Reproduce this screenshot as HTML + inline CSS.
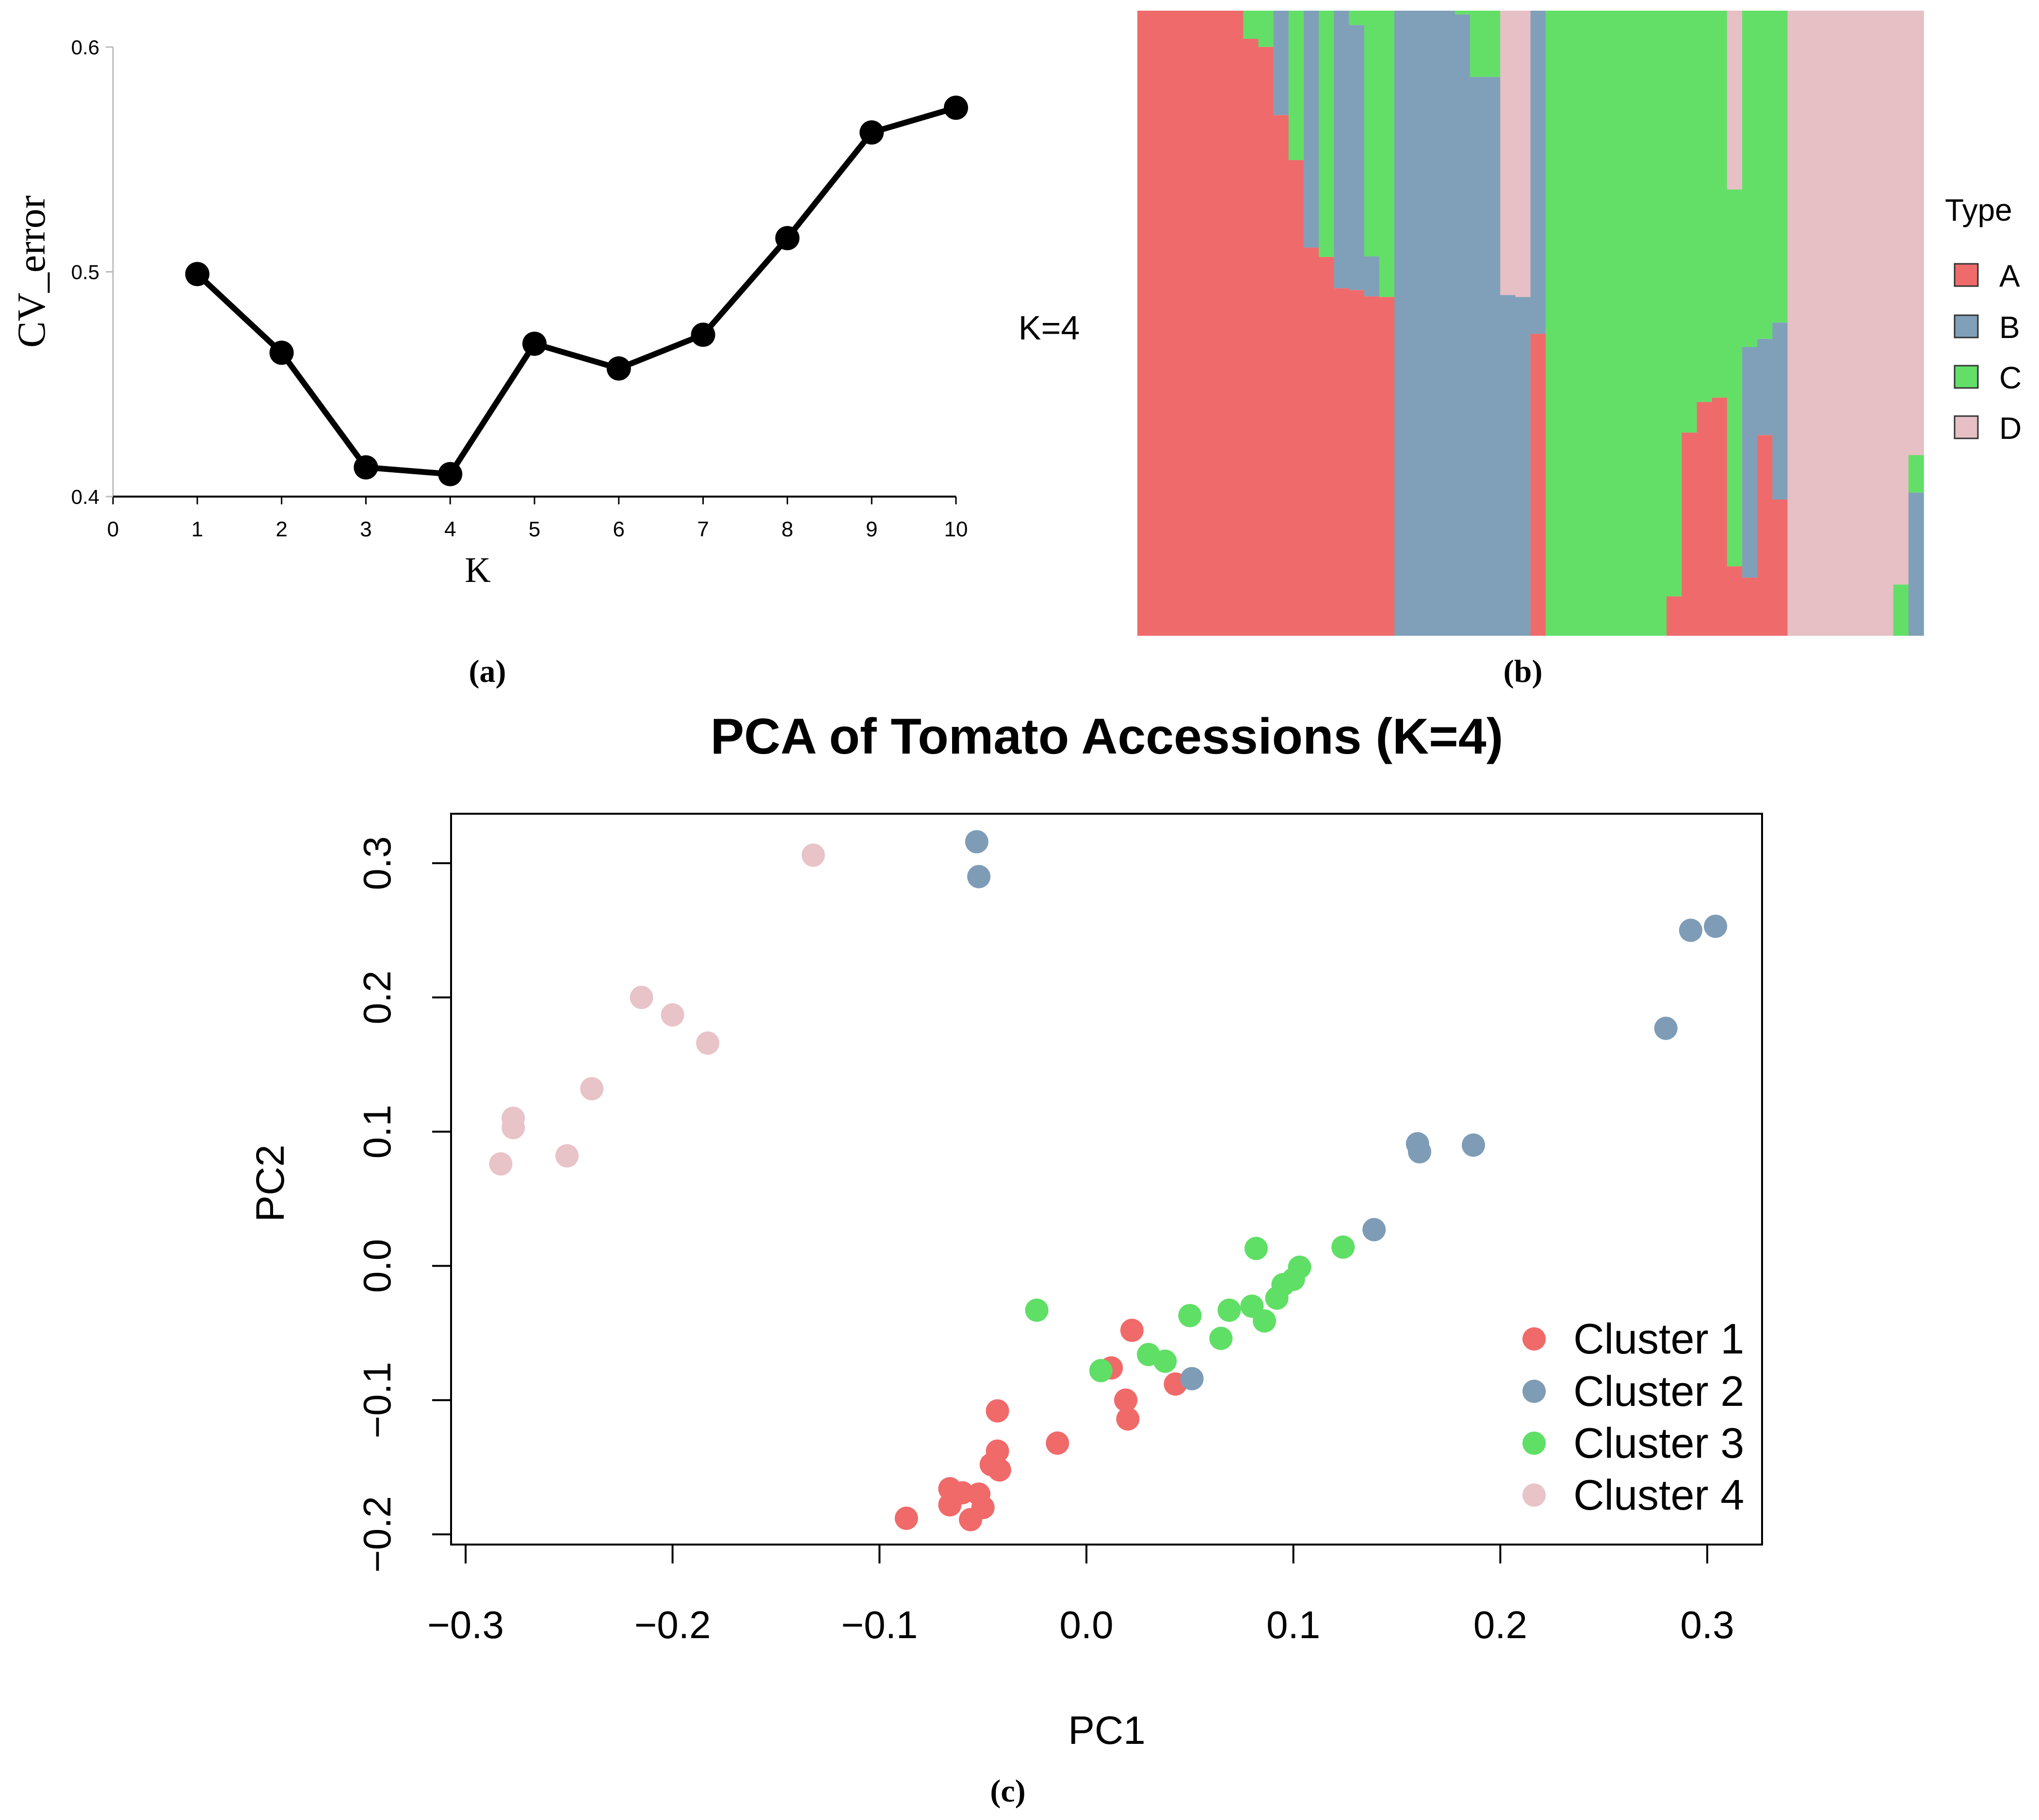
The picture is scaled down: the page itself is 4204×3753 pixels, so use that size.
<!DOCTYPE html>
<html><head><meta charset="utf-8"><style>
html,body{margin:0;padding:0;background:#fff;}
svg{display:block;}
</style></head><body>
<svg id="fig" width="4204" height="3753" viewBox="0 0 4204 3753" xmlns="http://www.w3.org/2000/svg">
<g id="pa"></g>
<g id="pb"></g>
<g id="pc"></g>
</svg>
<script>
const NS='http://www.w3.org/2000/svg';
function mk(parent,tag,attrs,text){const e=document.createElementNS(NS,tag);for(const k in attrs)e.setAttribute(k,attrs[k]);if(text!==undefined)e.textContent=text;parent.appendChild(e);return e;}

/* ---------- Panel (a) data ---------- */
const kValues=[1,2,3,4,5,6,7,8,9,10];
const cvError=[0.499,0.464,0.413,0.410,0.468,0.457,0.472,0.515,0.562,0.573];
const kTicks=[0,1,2,3,4,5,6,7,8,9,10];
const cvTicks=[0.4,0.5,0.6];

/* ---------- Panel (b) data: per-bar ancestry fractions ---------- */
const qA=[1,1,1,1,1,1,1,.955,.942,.833,.761,.621,.606,.556,.553,.543,.542,0,0,0,0,0,0,0,0,0,.483,0,0,0,0,0,0,0,0,.063,.325,.374,.381,.111,.093,.321,.218,0,0,0,0,0,0,0,0,0];
const qB=[0,0,0,0,0,0,0,0,0,.167,0,.379,0,.444,.424,.064,0,1,1,1,1,.994,.894,.894,.545,.542,.517,0,0,0,0,0,0,0,0,0,0,0,0,0,.369,.154,.283,0,0,0,0,0,0,0,0,.229];
const qC=[0,0,0,0,0,0,0,.045,.058,0,.239,0,.394,0,.023,.393,.458,0,0,0,0,.006,.106,.106,0,0,0,1,1,1,1,1,1,1,1,.937,.675,.626,.619,.603,.538,.525,.499,0,0,0,0,0,0,0,.082,.060];
const qD=[0,0,0,0,0,0,0,0,0,0,0,0,0,0,0,0,0,0,0,0,0,0,0,0,.455,.458,0,0,0,0,0,0,0,0,0,0,0,0,0,.286,0,0,0,1,1,1,1,1,1,1,.918,.711];
const stackOrder=["DCBA","DCBA","DCBA","DCBA","DCBA","DCBA","DCBA","CA","CA","BA","CA","BA","CA","BA","CBA","CBA","CA","B","B","B","B","CB","CB","CB","DB","DB","BA","C","C","C","C","C","C","C","C","CA","CA","CA","CA","DCA","CBA","CBA","CBA","D","D","D","D","D","D","D","DC","DCB"];
const typeLabels=["A","B","C","D"];

/* ---------- Panel (c) data ---------- */
const c1x=[0.022,0.012,0.043,0.019,0.020,-0.043,-0.014,-0.043,-0.046,-0.042,-0.066,-0.060,-0.052,-0.066,-0.050,-0.056,-0.087];
const c1y=[-0.048,-0.076,-0.088,-0.100,-0.114,-0.108,-0.132,-0.138,-0.148,-0.152,-0.166,-0.169,-0.170,-0.178,-0.180,-0.189,-0.188];
const c2x=[-0.053,-0.052,0.292,0.304,0.280,0.160,0.161,0.187,0.139,0.051];
const c2y=[0.316,0.290,0.250,0.253,0.177,0.091,0.085,0.090,0.027,-0.084];
const c3x=[-0.024,0.082,0.124,0.103,0.095,0.100,0.092,0.080,0.069,0.050,0.086,0.065,0.030,0.038,0.007];
const c3y=[-0.033,0.013,0.014,-0.001,-0.014,-0.010,-0.024,-0.030,-0.033,-0.037,-0.041,-0.054,-0.066,-0.071,-0.078];
const c4x=[-0.132,-0.215,-0.200,-0.183,-0.239,-0.277,-0.277,-0.251,-0.283];
const c4y=[0.306,0.200,0.187,0.166,0.132,0.110,0.103,0.082,0.076];
const pcXTicks=[-0.3,-0.2,-0.1,0.0,0.1,0.2,0.3];
const pcYTicks=[-0.2,-0.1,0.0,0.1,0.2,0.3];
const clusterNames=["Cluster 1","Cluster 2","Cluster 3","Cluster 4"];

/* ===== draw panel a ===== */
(function(){
const g=document.getElementById('pa');
const x=k=>233+k*(1971-233)/10;
const y=v=>1024-(v-0.4)*(1024-97)/0.2;
let e=mk(g,'line',{x1:233,y1:97,x2:233,y2:1024,stroke:'#bbb','stroke-width':3});

e=mk(g,'line',{x1:233,y1:1024,x2:1971,y2:1024,stroke:'#000','stroke-width':4});

kTicks.forEach(k=>{
 let t=mk(g,'line',{x1:x(k),y1:1024,x2:x(k),y2:1040,stroke:'#000','stroke-width':3});
 
 let l=mk(g,'text',{x:x(k),y:1106,'text-anchor':'middle','font-family':'Liberation Sans Narrow, Liberation Sans, sans-serif','font-size':44},String(k));
 
});
cvTicks.forEach(v=>{
 let t=mk(g,'line',{x1:218,y1:y(v),x2:233,y2:y(v),stroke:'#bbb','stroke-width':3});
 
 let l=mk(g,'text',{x:205,y:y(v)+15,'text-anchor':'end','font-family':'Liberation Sans Narrow, Liberation Sans, sans-serif','font-size':42},v.toFixed(1));
 
});
let pts=kValues.map((k,i)=>x(k)+','+y(cvError[i])).join(' ');
e=mk(g,'polyline',{points:pts,fill:'none',stroke:'#000','stroke-width':12,'stroke-linejoin':'round'});

kValues.forEach((k,i)=>{
 let c=mk(g,'circle',{cx:x(k),cy:y(cvError[i]),r:25,fill:'#000'});
 
});
e=mk(g,'text',{x:985,y:1200,'text-anchor':'middle','font-family':'Liberation Serif, serif','font-size':74},'K');

e=mk(g,'text',{x:0,y:0,'text-anchor':'middle','font-family':'Liberation Serif, serif','font-size':82,transform:'translate(92,560) rotate(-90)'},'CV_error');

e=mk(g,'text',{x:1005,y:1406,'text-anchor':'middle','font-family':'Liberation Serif, serif','font-size':66,'font-weight':'bold'},'(a)');

})();

/* ===== draw panel b ===== */
(function(){
const g=document.getElementById('pb');
const colors={A:'#ef6b6b',B:'#80a0b9',C:'#63df68',D:'#e6c0c5'};
const q={A:qA,B:qB,C:qC,D:qD};
const x0=2345,x1=3966,yTop=22,yBot=1311;
const n=qA.length,bw=(x1-x0)/n,H=yBot-yTop;
for(let i=0;i<n;i++){
 let yy=yTop;
 const ord=stackOrder[i].split('');
 ord.forEach((c,j)=>{
  let h=q[c][i]*H;
  if(j===ord.length-1)h=yBot-yy;
  if(h<=0)return;
  let r=mk(g,'rect',{x:x0+i*bw,y:yy,width:bw+0.8,height:h,fill:colors[c]});
  
  yy+=h;
 });
}
let e=mk(g,'text',{x:2163,y:700,'text-anchor':'middle','font-family':'Liberation Sans, sans-serif','font-size':70},'K=4');

e=mk(g,'text',{x:4010,y:455,'font-family':'Liberation Sans, sans-serif','font-size':64},'Type');

const ly=[568,674,778,882];
typeLabels.forEach((t,i)=>{
 let r=mk(g,'rect',{x:4030,y:ly[i]-24,width:48,height:46,fill:colors[t],stroke:'#333','stroke-width':3});
 
 let l=mk(g,'text',{x:4122,y:ly[i]+23,'font-family':'Liberation Sans, sans-serif','font-size':64},t);
 
});
e=mk(g,'text',{x:3140,y:1406,'text-anchor':'middle','font-family':'Liberation Serif, serif','font-size':66,'font-weight':'bold'},'(b)');

})();

/* ===== draw panel c ===== */
(function(){
const g=document.getElementById('pc');
const x=v=>960+(v+0.3)*(3520-960)/0.6;
const y=v=>1780+(0.3-v)*(3164-1780)/0.5;
let e=mk(g,'text',{x:2282,y:1554,'text-anchor':'middle','font-family':'Liberation Sans, sans-serif','font-size':104,'font-weight':'bold'},'PCA of Tomato Accessions (K=4)');

e=mk(g,'rect',{x:930,y:1678,width:2703,height:1507,fill:'none',stroke:'#000','stroke-width':4});

e=mk(g,'line',{x1:x(-0.3),y1:3185,x2:x(0.3),y2:3185,stroke:'#000','stroke-width':4});

pcXTicks.forEach(v=>{
 let t=mk(g,'line',{x1:x(v),y1:3185,x2:x(v),y2:3224,stroke:'#000','stroke-width':4});
 
 let l=mk(g,'text',{x:x(v),y:3378,'text-anchor':'middle','font-family':'Liberation Sans, sans-serif','font-size':80},(v<0?'\u2212':'')+Math.abs(v).toFixed(1));
 
});
pcYTicks.forEach(v=>{
 let t=mk(g,'line',{x1:891,y1:y(v),x2:930,y2:y(v),stroke:'#000','stroke-width':4});
 
 let l=mk(g,'text',{x:0,y:0,'text-anchor':'middle','font-family':'Liberation Sans, sans-serif','font-size':80,transform:'translate(805,'+y(v)+') rotate(-90)'},(v<0?'\u2212':'')+Math.abs(v).toFixed(1));
 
});
e=mk(g,'text',{x:2282,y:3596,'text-anchor':'middle','font-family':'Liberation Sans, sans-serif','font-size':82},'PC1');

e=mk(g,'text',{x:0,y:0,'text-anchor':'middle','font-family':'Liberation Sans, sans-serif','font-size':82,transform:'translate(585,2440) rotate(-90)'},'PC2');

const cols=['#f06a6a','#7e9cb6','#5fdf65','#e8c3c8'];
const sets=[[c1x,c1y],[c2x,c2y],[c3x,c3y],[c4x,c4y]];
sets.forEach((s,ci)=>{
 s[0].forEach((vx,i)=>{
  let c=mk(g,'circle',{cx:x(vx),cy:y(s[1][i]),r:24,fill:cols[ci]});
  
 });
});
const ly=[2761,2869,2976,3083];
clusterNames.forEach((nm,i)=>{
 let c=mk(g,'circle',{cx:3163,cy:ly[i],r:24,fill:cols[i]});
 
 let l=mk(g,'text',{x:3244,y:ly[i]+30,'font-family':'Liberation Sans, sans-serif','font-size':88},nm);
 
});
e=mk(g,'text',{x:2078,y:3715,'text-anchor':'middle','font-family':'Liberation Serif, serif','font-size':66,'font-weight':'bold'},'(c)');

})();
</script>
</body></html>
